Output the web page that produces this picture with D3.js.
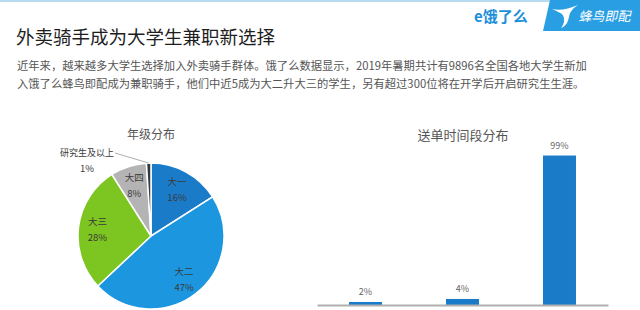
<!DOCTYPE html>
<html>
<head>
<meta charset="utf-8">
<script src="https://cdn.jsdelivr.net/npm/d3@7"></script>
<style>
  body { margin: 0; background: #fff; }
  svg { display: block; font-family: "Noto Sans CJK SC", "Noto Sans", sans-serif; }
</style>
</head>
<body>
<svg width="640" height="310"></svg>
<script>
// data
const title = "外卖骑手成为大学生兼职新选择";
const paragraph = [
  "近年来，越来越多大学生选择加入外卖骑手群体。饿了么数据显示，2019年暑期共计有9896名全国各地大学生新加",
  "入饿了么蜂鸟即配成为兼职骑手，他们中近5成为大二升大三的学生，另有超过300位将在开学后开启研究生生涯。"
];
const gradeTitle = "年级分布";
const grades = ["大一", "大二", "大三", "大四", "研究生及以上"];
const gradeShare = [16, 47, 28, 8, 1];
const gradeColors = ["#1a7bc9", "#1b96df", "#7dc520", "#b4b4b4", "#2e3a44"];

const slotTitle = "送单时间段分布";
const slots = ["slot1", "slot2", "slot3"];
const slotShare = [2, 4, 99];

const svg = d3.select("svg");
const width = +svg.attr("width");

// header
svg.append("rect")
  .attr("x", 0).attr("y", 0)
  .attr("width", width).attr("height", 2)
  .style("fill", "#b7dcef");

svg.append("path")
  .attr("d", "M550,0 L640,0 L640,31 L543,31 Z")
  .style("fill", "#2a9ee3");

// bird mark
svg.append("path")
  .attr("d", "M552,9 C560,11 568,9 578,5 C572,9 570,12 569,17 C568,22 566,26 561,28 C565,23 565,18 562,14 C559,12 556,11 552,9 Z")
  .style("fill", "#fff");

svg.append("text")
  .attr("x", 579).attr("y", 21)
  .attr("transform", "skewX(-12)")
  .attr("dx", 4)
  .style("font-size", "13px")
  .style("fill", "#fff")
  .text("蜂鸟即配");

svg.append("text")
  .attr("x", 474).attr("y", 22)
  .style("font-size", "15px")
  .style("font-weight", "bold")
  .style("fill", "#1d8fd9")
  .text("e饿了么");

svg.append("text")
  .attr("x", 16).attr("y", 44)
  .style("font-size", "18.5px")
  .style("fill", "#1e1e1e")
  .text(title);

svg.selectAll(".para")
  .data(paragraph)
  .enter()
  .append("text")
    .classed("para", true)
    .attr("x", 17)
    .attr("y", (d, i) => 70 + i * 18)
    .style("font-size", "11.3px")
    .style("fill", "#555")
    .text(d => d);

// pie
const cx = 151, cy = 236, r = 73;
const pieG = svg.append("g").attr("transform", `translate(${cx},${cy})`);

const pie = d3.pie().sort(null).value(d => d.v);
const arcs = pie(grades.map((g, i) => ({ name: g, v: gradeShare[i], color: gradeColors[i] })));
const arc = d3.arc().innerRadius(0).outerRadius(r);
const labelArc = d3.arc().innerRadius(54).outerRadius(54);

pieG.selectAll("path")
  .data(arcs)
  .enter()
  .append("path")
    .attr("d", arc)
    .style("fill", d => d.data.color)
    .style("stroke", "#fff")
    .style("stroke-width", 1.5);

const inside = arcs.filter(d => d.data.v > 2);
pieG.selectAll(".lbl")
  .data(inside)
  .enter()
  .append("text")
    .classed("lbl", true)
    .attr("transform", d => `translate(${labelArc.centroid(d)})`)
    .attr("text-anchor", "middle")
    .style("font-size", "9.5px")
    .style("fill", "#3a3a3a")
    .call(t => {
      t.append("tspan").attr("x", 0).attr("y", -4).text(d => d.data.name);
      t.append("tspan").attr("x", 0).attr("y", 12).text(d => d.data.v + "%");
    });

// small slice with leader line
const small = arcs[arcs.length - 1];
const edge = d3.arc().innerRadius(r).outerRadius(r).centroid(small);
pieG.append("polyline")
  .attr("points", [[-36, -83], edge].map(p => p.join(",")).join(" "))
  .style("fill", "none")
  .style("stroke", "#999")
  .style("stroke-width", 0.8);
pieG.append("text")
  .attr("x", -64).attr("y", -80)
  .attr("text-anchor", "middle")
  .style("font-size", "9px")
  .style("fill", "#3a3a3a")
  .text(small.data.name);
pieG.append("text")
  .attr("x", -64).attr("y", -64)
  .attr("text-anchor", "middle")
  .style("font-size", "9.5px")
  .style("fill", "#3a3a3a")
  .text(small.data.v + "%");

svg.append("text")
  .attr("x", 151).attr("y", 139)
  .attr("text-anchor", "middle")
  .style("font-size", "12px")
  .style("fill", "#555")
  .text(gradeTitle);

// bars
const xScale = d3.scaleBand()
  .domain(slots)
  .range([317, 608])
  .paddingInner(0.66)
  .paddingOuter(0.33);
const yScale = d3.scaleLinear()
  .domain([0, 100])
  .range([305, 154]);

svg.selectAll(".bar")
  .data(slotShare)
  .enter()
  .append("rect")
    .classed("bar", true)
    .attr("x", (d, i) => xScale(slots[i]))
    .attr("y", d => yScale(d))
    .attr("width", xScale.bandwidth())
    .attr("height", d => yScale(0) - yScale(d))
    .style("fill", "#1a7bc9");

svg.selectAll(".barLbl")
  .data(slotShare)
  .enter()
  .append("text")
    .classed("barLbl", true)
    .attr("x", (d, i) => xScale(slots[i]) + xScale.bandwidth() / 2)
    .attr("y", d => yScale(d) - 7)
    .attr("text-anchor", "middle")
    .style("font-size", "9px")
    .style("fill", "#666")
    .text(d => d + "%");

const xAxis = d3.axisBottom(xScale).tickSize(0).tickFormat("");
svg.append("g")
  .classed("xAxis", true)
  .attr("transform", `translate(0, ${yScale(0)})`)
  .call(xAxis)
  .call(g => g.select(".domain").style("stroke", "#b0b0b0").style("stroke-width", 2));

svg.append("text")
  .attr("x", 463).attr("y", 140)
  .attr("text-anchor", "middle")
  .style("font-size", "13px")
  .style("fill", "#555")
  .text(slotTitle);
</script>
</body>
</html>
